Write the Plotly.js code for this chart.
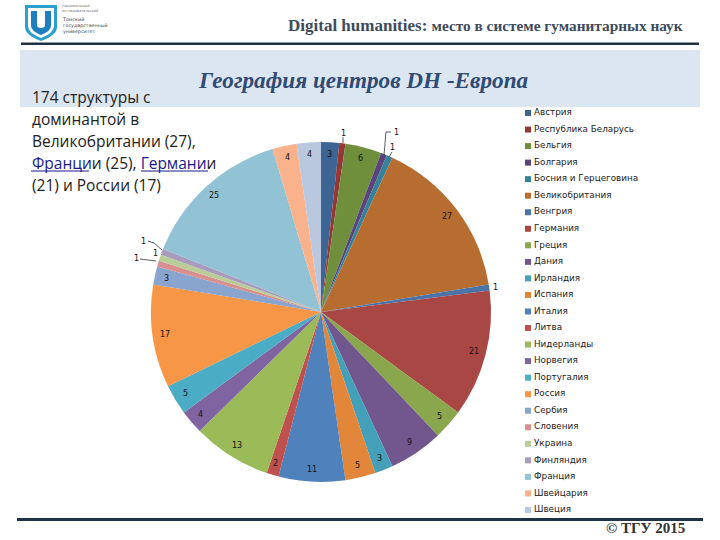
<!DOCTYPE html>
<html><head><meta charset="utf-8">
<script src="https://cdn.plot.ly/plotly-3.0.1.min.js"></script>
<style>html,body{margin:0;padding:0;background:#fff}</style></head>
<body><div id="chart" style="width:720px;height:540px"></div>
<script>
const countries = ["Австрия","Республика Беларусь","Бельгия","Болгария","Босния и Герцеговина","Великобритания","Венгрия","Германия","Греция","Дания","Ирландия","Испания","Италия","Литва","Нидерланды","Норвегия","Португалия","Россия","Сербия","Словения","Украина","Финляндия","Франция","Швейцария","Швеция"];
const counts = [3,1,6,1,1,27,1,21,5,9,3,5,11,2,13,4,5,17,3,1,1,1,25,4,4];
const colors = ["#3c6594","#953735","#6f8f3c","#5b437c","#35829a","#b86d30","#4a74a8","#a94744","#8aa74e","#72578f","#43a0b8","#e2863a","#4f81bd","#c0504d","#9bbb59","#8064a2","#4bacc6","#f79646","#8aa4d0","#d88f8d","#b9cd96","#a99bbd","#92c3d5","#f9b28c","#b9c8de"];
const introLines = ["174 структуры с","доминантой в","Великобритании (27),",'<span style="color:#1a1a8c">Франци</span>и (25), <span style="color:#1a1a8c">Германи</span>и',"(21) и России (17)"];
const pieBox = {cx:321, cy:312, r:170};
const labelRadius = 0.93;

const total = counts.reduce((a,b)=>a+b,0);
let cum = 0;
const dataLabels = counts.map((v,i)=>{
  const a = (cum + v/2)/total*2*Math.PI; cum += v;
  return {x: pieBox.cx + labelRadius*pieBox.r*Math.sin(a), y: pieBox.cy - labelRadius*pieBox.r*Math.cos(a), text: String(v),
    xref:'x', yref:'y', showarrow:false, font:{family:'DejaVu Sans', size:8, color:'#111'}};
});
// labels of the narrow slices sit beside their leader lines
const offsets = {1:[343,133],3:[396,132],4:[392,147],6:[495,287],19:[136,258],20:[155,253],21:[143,241]};
Object.keys(offsets).forEach(k=>{dataLabels[k].x=offsets[k][0];dataLabels[k].y=offsets[k][1];});

const legendMarkerX = 528, legendTextX = 534, legendTop = 113, legendStep = 16.54;
const legendY = countries.map((_,i)=>legendTop + legendStep*i);

const pie = {type:'pie', values:counts, labels:countries, sort:false, direction:'clockwise', rotation:0,
  marker:{colors:colors, line:{width:0}}, textinfo:'none', hoverinfo:'label+value', showlegend:false,
  domain:{x:[(pieBox.cx-pieBox.r)/720,(pieBox.cx+pieBox.r)/720], y:[(540-pieBox.cy-pieBox.r)/540,(540-pieBox.cy+pieBox.r)/540]}};
const legendMarkers = {type:'scatter', mode:'markers', x:countries.map(()=>legendMarkerX), y:legendY,
  marker:{symbol:'square', size:6, color:colors}, showlegend:false, hoverinfo:'skip'};
const legendTexts = {type:'scatter', mode:'text', x:countries.map(()=>legendTextX), y:legendY, text:countries,
  textposition:'middle right', textfont:{family:'DejaVu Sans', size:8.8, color:'#222'}, cliponaxis:false, showlegend:false, hoverinfo:'skip'};

const line = (x0,y0,x1,y1)=>({type:'line',xref:'x',yref:'y',x0,y0,x1,y1,layer:'above',line:{color:'#333',width:.8}});
const shapes = [
  {type:'rect',xref:'x',yref:'y',x0:20,x1:700,y0:50,y1:107,layer:'below',fillcolor:'#dce6f1',line:{width:0}},
  {type:'rect',xref:'x',yref:'y',x0:21,x1:699,y0:42.5,y1:45,layer:'below',fillcolor:'#1f3245',line:{width:0}},
  {type:'rect',xref:'x',yref:'y',x0:17,x1:703,y0:518,y1:521,layer:'below',fillcolor:'#1f3245',line:{width:0}},
  // logo
  {type:'path',xref:'x',yref:'y',path:'M25 5 L57 5 L57 27 Q57 35 41 41 Q25 35 25 27 Z',fillcolor:'#2a9fd0',line:{width:0},layer:'below'},
  {type:'path',xref:'x',yref:'y',path:'M28 8 L54 8 L54 26 Q54 33 41 38 Q28 33 28 26 Z',fillcolor:'#ffffff',line:{width:0},layer:'below'},
  {type:'path',xref:'x',yref:'y',path:'M31 11 L37 11 L37 25 Q37 28 41 28 Q45 28 45 25 L45 11 L51 11 L51 26 Q51 31 41 35 Q31 31 31 26 Z',fillcolor:'#1e7fc0',line:{width:0},layer:'below'},
  // link underlines
  {type:'rect',xref:'x',yref:'y',x0:31,x1:89,y0:170.5,y1:171.5,fillcolor:'#1a1a8c',line:{width:0},layer:'below'},
  {type:'rect',xref:'x',yref:'y',x0:141,x1:208,y0:170.5,y1:171.5,fillcolor:'#1a1a8c',line:{width:0},layer:'below'},
  // leader lines
  line(343,137,343,143), line(386,132,391,132), line(386,132,384,155), line(392,152,389,157),
  line(140,259,156,261), line(148,241,154,243), line(154,243,162,250)
];

const txt = (x,y,text,size,family,color,extra)=>Object.assign({x,y,text,xref:'x',yref:'y',showarrow:false,xanchor:'left',align:'left',font:{size,family,color}},extra||{});
const annotations = dataLabels.concat(
  introLines.map((t,i)=>txt(30,97+22*i,t,15.5,'Open Sans','#222')),
  [
  txt(286,25,'<b>Digital humanities:</b> <span style="font-size:15.3px"><b>место в системе гуманитарных наук</b></span>',17,'Liberation Serif','#3d4b5c'),
  txt(196,80,'<b><i>География центров DH -Европа</i></b>',23.2,'Liberation Serif','#2f4a75'),
  txt(604,528,'<b>© ТГУ 2015</b>',15,'Liberation Serif','#333'),
  txt(60,8,'Национальный<br>исследовательский',3.5,'DejaVu Sans','#777'),
  txt(60,25,'Томский<br>государственный<br>университет',4.8,'DejaVu Sans','#444')
]);

const layout = {width:720,height:540,margin:{l:0,r:0,t:0,b:0},paper_bgcolor:'#fff',plot_bgcolor:'rgba(0,0,0,0)',showlegend:false,
  xaxis:{range:[0,720],visible:false,fixedrange:true},yaxis:{range:[540,0],visible:false,fixedrange:true},shapes,annotations};
Plotly.newPlot('chart',[legendMarkers,legendTexts,pie],layout,{displayModeBar:false,staticPlot:true});
</script></body></html>
